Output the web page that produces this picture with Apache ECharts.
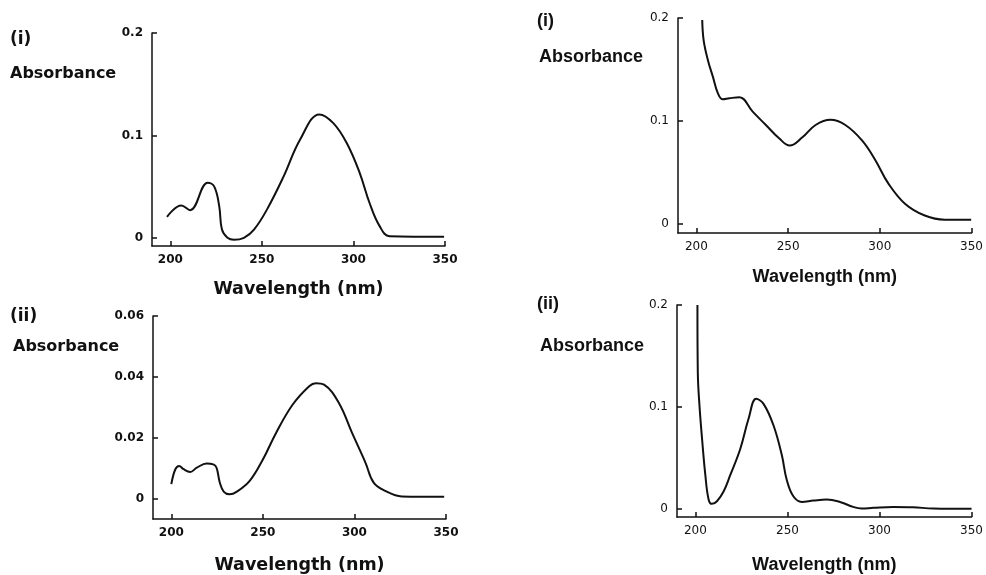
<!DOCTYPE html>
<html>
<head>
<meta charset="utf-8">
<script src="https://cdn.jsdelivr.net/npm/echarts@6/dist/echarts.min.js"></script>
<style>
  html, body { margin: 0; padding: 0; background: #fff; }
  #chart { width: 986px; height: 575px; }
</style>
</head>
<body>
<div id="chart"></div>
<script>
// tick labels
const xTicks = [200, 250, 300, 350];
const yTicksA = [0, 0.1, 0.2];
const yTicksB = [0, 0.02, 0.04, 0.06];

// panel top-left (i)
const wl1 = [198.2, 206, 210.8, 220.4, 224, 226.7, 228.2, 231.2, 234.8, 240.2, 245.7, 252.9, 261.9, 270.9, 281.4, 289, 296.2, 303.4, 308.8, 314.3, 319.7, 349.5];
const abs1 = [0.0205, 0.0316, 0.027, 0.0537, 0.05, 0.031, 0.008, 0, -0.002, 0, 0.008, 0.028, 0.06, 0.096, 0.1205, 0.112, 0.093, 0.0635, 0.034, 0.0114, 0.0016, 0.001];

// panel top-right (i)
const wl2 = [203.2, 204, 206.3, 209, 211.7, 214.4, 218, 223.5, 230.7, 237.9, 245.1, 250.9, 257.8, 265, 273.1, 281.2, 290.3, 297.5, 304.7, 313.7, 324.5, 335.4, 349.8];
const abs2 = [0.198, 0.178, 0.159, 0.143, 0.127, 0.121, 0.122, 0.123, 0.109, 0.096, 0.083, 0.076, 0.084, 0.096, 0.101, 0.096, 0.081, 0.062, 0.039, 0.0195, 0.008, 0.004, 0.004];

// panel bottom-left (ii)
const wl3 = [200, 202.2, 204.3, 206.7, 210.3, 213.9, 219.3, 222.9, 224.7, 226.5, 228.7, 231.9, 235.6, 242.8, 250, 257.2, 266.3, 275.3, 278.9, 283.4, 291.5, 298.7, 306, 310.5, 316.8, 325.8, 349];
const abs3 = [0.0049, 0.0098, 0.0109, 0.0098, 0.0089, 0.0103, 0.0117, 0.0114, 0.0103, 0.0054, 0.0024, 0.0016, 0.0024, 0.006, 0.013, 0.0217, 0.031, 0.037, 0.038, 0.0375, 0.0315, 0.0217, 0.012, 0.0054, 0.0027, 0.0009, 0.0008];

// panel bottom-right (ii)
const wl4 = [201.1, 201.3, 202.2, 203.6, 205.4, 207.2, 209, 211.7, 215.3, 218.9, 224.4, 228.9, 233, 237, 242.4, 246.9, 249.6, 253.2, 257.8, 264.1, 271.3, 278.5, 285.7, 290.3, 296.6, 307.4, 318.2, 329.1, 350];
const abs4 = [0.2, 0.134, 0.1016, 0.069, 0.033, 0.009, 0.0049, 0.0075, 0.017, 0.033, 0.059, 0.0886, 0.108, 0.103, 0.082, 0.053, 0.0286, 0.0123, 0.0068, 0.0081, 0.0091, 0.0068, 0.0019, 0.0003, 0.001, 0.0019, 0.0016, 0.0003, 0];

const ink = '#111';
const dejavu = '"DejaVu Sans", sans-serif';
const liber = '"Liberation Sans", Arial, sans-serif';

// left panels are set heavier than the right ones in the original
const panels = [
  { grid: { left: 152, right: 541, top: 33, bottom: 329 }, yMin: -0.008, yMax: 0.2, yTicks: yTicksA, wl: wl1, abs: abs1, left: true, nameGap: 34 },
  { grid: { left: 678, right: 12, top: 18, bottom: 342 }, yMin: -0.009, yMax: 0.2, yTicks: yTicksA, wl: wl2, abs: abs2, left: false, nameGap: 35 },
  { grid: { left: 153, right: 540, top: 316, bottom: 55 }, yMin: -0.0065, yMax: 0.06, yTicks: yTicksB, wl: wl3, abs: abs3, left: true, nameGap: 37 },
  { grid: { left: 677, right: 13, top: 305, bottom: 56 }, yMin: -0.008, yMax: 0.2, yTicks: yTicksA, wl: wl4, abs: abs4, left: false, nameGap: 39 }
];

const pair = (xs, ys) => xs.map((x, i) => [x, ys[i]]);

const nameStyle = p => p.left
  ? { color: ink, fontFamily: dejavu, fontWeight: 'bold', fontSize: 17.5 }
  : { color: ink, fontFamily: liber, fontWeight: 'bold', fontSize: 18 };
const tickStyle = p => ({ color: ink, fontFamily: dejavu, fontWeight: p.left ? 'bold' : 'normal', fontSize: 12 });

const option = {
  animation: false,
  backgroundColor: '#fff',
  grid: panels.map(p => p.grid),
  xAxis: panels.map((p, i) => ({
    type: 'value',
    gridIndex: i,
    min: 190,
    max: 350,
    name: 'Wavelength (nm)',
    nameLocation: 'middle',
    nameGap: p.nameGap,
    nameTextStyle: nameStyle(p),
    splitLine: { show: false },
    axisLine: { onZero: false, lineStyle: { color: ink, width: 1.5 } },
    axisTick: { inside: true, length: 5, customValues: xTicks, lineStyle: { color: ink, width: 1.5 } },
    axisLabel: Object.assign({ customValues: xTicks, margin: 8 }, tickStyle(p))
  })),
  yAxis: panels.map((p, i) => ({
    type: 'value',
    gridIndex: i,
    min: p.yMin,
    max: p.yMax,
    splitLine: { show: false },
    axisLine: { show: true, onZero: false, lineStyle: { color: ink, width: 1.5 } },
    axisTick: { show: true, inside: true, length: 5, customValues: p.yTicks, lineStyle: { color: ink, width: 1.5 } },
    axisLabel: Object.assign({ customValues: p.yTicks, margin: 9 }, tickStyle(p))
  })),
  series: panels.map((p, i) => ({
    type: 'line',
    xAxisIndex: i,
    yAxisIndex: i,
    data: pair(p.wl, p.abs),
    smooth: 0.4,
    showSymbol: false,
    lineStyle: { color: ink, width: 2 }
  })),
  graphic: [
    { type: 'text', left: 10, top: 31, style: { text: '(i)', font: 'bold 17px ' + dejavu, fill: ink } },
    { type: 'text', left: 10, top: 66, style: { text: 'Absorbance', font: 'bold 16px ' + dejavu, fill: ink } },
    { type: 'text', left: 537, top: 12, style: { text: '(i)', font: 'bold 18px ' + liber, fill: ink } },
    { type: 'text', left: 539, top: 48, style: { text: 'Absorbance', font: 'bold 18px ' + liber, fill: ink } },
    { type: 'text', left: 10, top: 308, style: { text: '(ii)', font: 'bold 17px ' + dejavu, fill: ink } },
    { type: 'text', left: 13, top: 339, style: { text: 'Absorbance', font: 'bold 16px ' + dejavu, fill: ink } },
    { type: 'text', left: 537, top: 295, style: { text: '(ii)', font: 'bold 18px ' + liber, fill: ink } },
    { type: 'text', left: 540, top: 337, style: { text: 'Absorbance', font: 'bold 18px ' + liber, fill: ink } }
  ]
};

const chart = echarts.init(document.getElementById('chart'), null, { renderer: 'canvas' });
chart.setOption(option);
</script>
</body>
</html>
